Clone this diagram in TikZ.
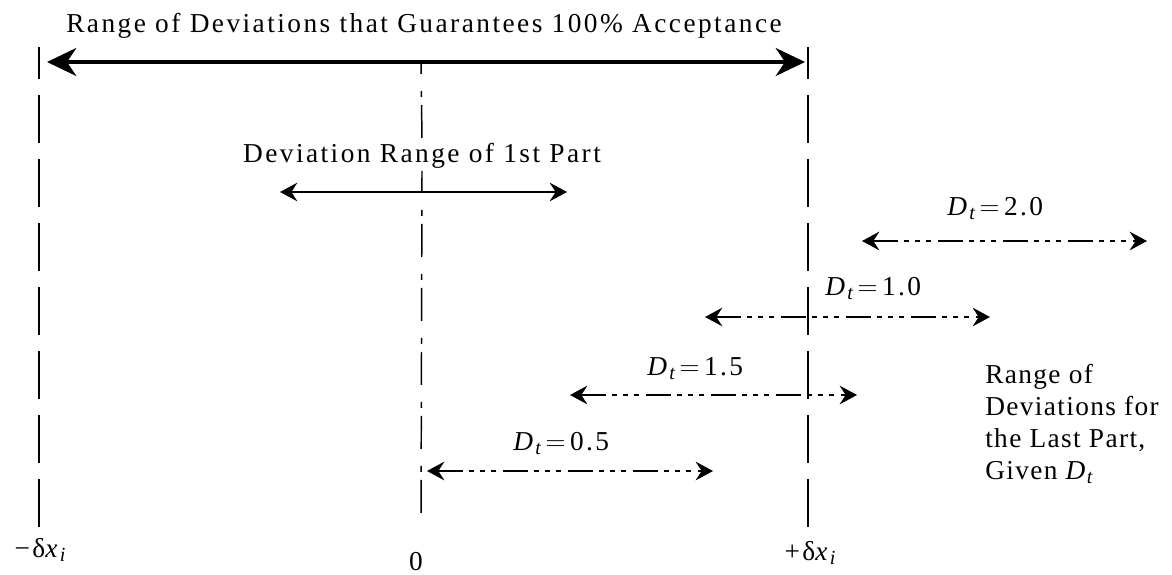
\documentclass[tikz,border=0pt]{standalone}
\usepackage{fontspec}
\setmainfont{Liberation Serif}[LetterSpace=9]
\usetikzlibrary{arrows.meta}
\newcommand{\lowsub}[1]{\raisebox{-0.35ex}{\fontsize{15}{15}\selectfont\itshape #1}}
\newcommand{\Dt}{\textit{D}\lowsub{t}}
\begin{document}
\begin{tikzpicture}[x=0.75pt, y=-0.75pt,
    every node/.style={inner sep=0pt, font=\fontsize{20.5}{24}\selectfont},
    bound/.style={line width=1.3pt, dash pattern=on 36pt off 12pt, dash phase=12pt},
    zeroline/.style={line width=1.1pt, dash pattern=on 24.75pt off 12.75pt on 4.5pt off 6pt, dash phase=15.75pt},
    fullrange/.style={line width=2.4pt, {Stealth[length=22pt, width=21pt, inset=7pt]}-{Stealth[length=22pt, width=21pt, inset=7pt]}},
    firstrange/.style={line width=1.2pt, {Stealth[length=13pt, width=14pt, inset=4.5pt]}-{Stealth[length=13pt, width=14pt, inset=4.5pt]}},
    lastrange/.style={firstrange, dash pattern=on 18.75pt off 4.5pt on 3.75pt off 4.5pt on 3.75pt off 4.5pt on 3.75pt off 5.25pt}]
  % limiti di tolleranza e asse dello zero
  \useasboundingbox (0,0) rectangle (1172,575);
  \coordinate (lowtop) at (39,47);   \coordinate (lowbot) at (39,527);
  \coordinate (uptop) at (808,47);   \coordinate (upbot) at (808,527);
  \coordinate (zerotop) at (421,62); \coordinate (zerobot) at (421,523);
  \draw[bound] (lowtop) -- (lowbot);
  \draw[bound] (uptop) -- (upbot);
  \node[fill=white, inner ysep=2pt, anchor=base] (firstlabel) at (422,162) {Deviation Range of 1st Part};
  \draw[zeroline] (zerotop) -- (firstlabel.north);
  \draw[zeroline, dash phase=8.25pt] (firstlabel.south) -- (zerobot);
  % intervallo che garantisce l'accettazione
  \node[anchor=base] (fulllabel) at (424,32) {Range of Deviations that Guarantees 100\% Acceptance};
  \coordinate (fullleft) at (47,62); \coordinate (fullright) at (805,62);
  \draw[fullrange] (fullleft) -- (fullright);
  \coordinate (firstleft) at (280,192); \coordinate (firstright) at (567,192);
  \draw[firstrange] (firstleft) -- (firstright);
  % intervalli dell'ultimo pezzo per ogni D_t
  \foreach \name/\xl/\xr/\ya/\xt/\yt/\val in {a/862/1147/241/947/215/2.0, b/705/990/317/825/295/1.0, c/570/857/395/647/375/1.5, d/427/713/471/513/450/0.5}{
    \coordinate (last\name l) at (\xl,\ya);
    \coordinate (last\name r) at (\xr,\ya);
    \draw[lastrange] (last\name l) -- (last\name r);
    \node[anchor=base west] (last\name label) at (\xt,\yt) {\Dt\,$=$\,\val};
  }
  \node[anchor=north west, align=left, font=\fontsize{20.5}{24}\selectfont\addfontfeature{LetterSpace=5}] (lastnote) at (985,364) {Range of\\Deviations for\\the Last Part,\\Given \Dt};
  % etichette dell'asse
  \node[anchor=base] (lowlabel) at (40,557) {−δ\textit{x}\lowsub{i}};
  \node[anchor=base] (zerolabel) at (416,570) {0};
  \node[anchor=base] (uplabel) at (810,560) {+δ\textit{x}\lowsub{i}};
\end{tikzpicture}
\end{document}
